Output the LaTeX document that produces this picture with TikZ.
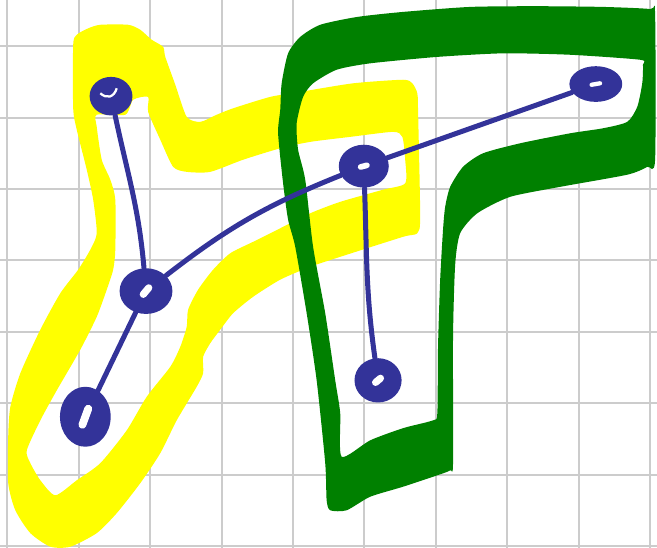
\documentclass[tikz,border=0pt]{standalone}
\usetikzlibrary{shapes.geometric}
\definecolor{penyellow}{HTML}{FFFF00}
\definecolor{pengreen}{HTML}{008000}
\definecolor{penblue}{HTML}{333399}
\definecolor{gridgray}{HTML}{CCCCCC}

\begin{document}
\begin{tikzpicture}[
 gridline/.style={draw=gridgray,line width=0.8pt},
 band/.style={even odd rule},
 blob/.style={ellipse,fill=penblue,inner sep=0pt,minimum width=7mm,minimum height=6mm},
 slot/.style args={#1:#2:#3}{path picture={\draw[white,line width=#3,line cap=round,shift={(path picture bounding box.center)}] (#1:#2) -- (#1+180:#2);}},
 link/.style={draw=penblue,line width=2pt,line cap=round}
]
\clip (-0.105,-0.028) rectangle (9.097,7.647);
\draw[gridline] (-1,-1) grid (10,8);

% yellow loop
\fill[penyellow,band]
 plot[smooth cycle,tension=0.4] coordinates {(0.92,7.02) (0.97,7.16) (1.13,7.25) (1.30,7.30) (1.69,7.30) (1.86,7.23) (2.02,7.09) (2.18,6.99) (2.21,6.85) (2.35,6.46) (2.51,6.01) (2.70,5.94) (2.93,6.04) (3.16,6.13) (3.68,6.29) (4.10,6.36) (4.84,6.48) (5.54,6.53) (5.67,6.48) (5.74,6.34) (5.75,6.11) (5.78,4.61) (5.74,4.38) (5.54,4.33) (4.66,4.05) (4.24,3.91) (3.82,3.73) (3.44,3.49) (3.16,3.26) (2.98,3.03) (2.84,2.84) (2.74,2.65) (2.74,2.42) (2.65,2.23) (2.37,1.76) (2.14,1.30) (1.86,0.88) (1.53,0.46) (1.25,0.18) (0.88,-0.01) (0.60,-0.01) (0.32,0.18) (0.11,0.50) (0.01,0.88) (0.01,1.53) (0.04,1.95) (0.18,2.42) (0.46,3.03) (0.74,3.54) (0.99,3.87) (1.16,4.15) (1.25,4.38) (1.20,4.85) (1.11,5.27) (0.97,5.83) (0.92,6.13)}
 plot[smooth cycle,tension=0.4] coordinates {(1.25,6.04) (1.65,6.04) (1.76,6.25) (1.97,6.29) (1.97,6.08) (2.14,5.69) (2.32,5.31) (2.51,5.24) (2.84,5.24) (3.30,5.41) (3.82,5.57) (4.24,5.66) (4.80,5.73) (5.40,5.80) (5.53,5.73) (5.57,5.41) (5.57,5.08) (5.26,4.99) (4.66,4.82) (4.24,4.66) (3.82,4.45) (3.44,4.26) (3.12,4.10) (2.88,3.87) (2.67,3.59) (2.53,3.31) (2.51,3.07) (2.42,2.79) (2.28,2.51) (1.95,2.09) (1.67,1.62) (1.30,1.16) (0.97,0.92) (0.67,0.71) (0.46,0.92) (0.32,1.16) (0.27,1.34) (0.46,1.76) (0.69,2.18) (1.02,2.75) (1.25,3.21) (1.39,3.59) (1.48,3.87) (1.51,4.15) (1.51,4.85) (1.44,5.13) (1.32,5.41) (1.25,5.87)};

% green loop
\fill[pengreen,band]
 plot[smooth cycle,tension=0.4] coordinates {(3.82,6.11) (3.84,6.48) (3.93,6.90) (4.10,7.13) (4.38,7.30) (4.90,7.41) (5.54,7.48) (6.48,7.55) (7.42,7.56) (8.34,7.55) (9.00,7.52) (9.07,7.45) (9.07,5.41) (8.96,5.31) (8.68,5.20) (7.74,5.03) (7.04,4.89) (6.58,4.66) (6.34,4.38) (6.27,3.94) (6.24,2.93) (6.24,1.16) (6.20,1.06) (6.02,0.99) (5.54,0.83) (5.08,0.69) (4.75,0.50) (4.52,0.50) (4.47,0.64) (4.45,1.16) (4.33,2.32) (4.19,3.26) (4.03,4.19) (3.93,4.57) (3.86,5.08) (3.79,5.78)}
 plot[smooth cycle,tension=0.4] coordinates {(4.05,5.92) (4.14,6.29) (4.28,6.48) (4.61,6.67) (5.08,6.76) (6.02,6.85) (6.94,6.90) (7.88,6.88) (8.86,6.81) (8.90,6.74) (8.89,6.48) (8.82,6.15) (8.68,5.94) (8.34,5.85) (7.88,5.78) (7.18,5.64) (6.66,5.50) (6.38,5.31) (6.20,5.03) (6.13,4.75) (6.10,4.43) (6.06,3.73) (6.03,2.79) (6.02,1.86) (5.96,1.76) (5.54,1.65) (5.08,1.48) (4.68,1.25) (4.66,1.86) (4.59,2.32) (4.45,3.26) (4.28,4.19) (4.17,5.13) (4.07,5.55)};

\node[blob,minimum width=6mm,minimum height=5.4mm,path picture={\draw[white,line width=0.9pt,shift={(path picture bounding box.center)}] (-0.15,0.04) .. controls (-0.06,-0.04) and (0.04,-0.02) .. (0.08,0.11);}] (va) at (1.45,6.30) {};
\node[blob,minimum width=7.4mm,minimum height=6.4mm,slot=50:0.6mm:1mm] (vb) at (1.94,3.57) {};
\node[blob,minimum width=7.1mm,minimum height=8.4mm,slot=70:1.2mm:1.1mm] (vc) at (1.09,1.81) {};
\node[blob,minimum width=7mm,minimum height=6mm,slot=15:0.45mm:0.8mm] (vd) at (4.99,5.32) {};
\node[blob,minimum width=7.4mm,minimum height=5mm,slot=10:0.6mm:0.6mm] (ve) at (8.24,6.47) {};
\node[blob,minimum width=6.6mm,minimum height=6.2mm,slot=40:0.45mm:1mm] (vf) at (5.19,2.32) {};

\draw[link] (va) to[out=-78,in=95] (vb);
\draw[link] (vb) -- (vc);
\draw[link] (vb) to[bend left=8] (vd);
\draw[link] (vd) -- (ve);
\draw[link] (vd) to[out=-88,in=98] (vf);
\end{tikzpicture}
\end{document}
